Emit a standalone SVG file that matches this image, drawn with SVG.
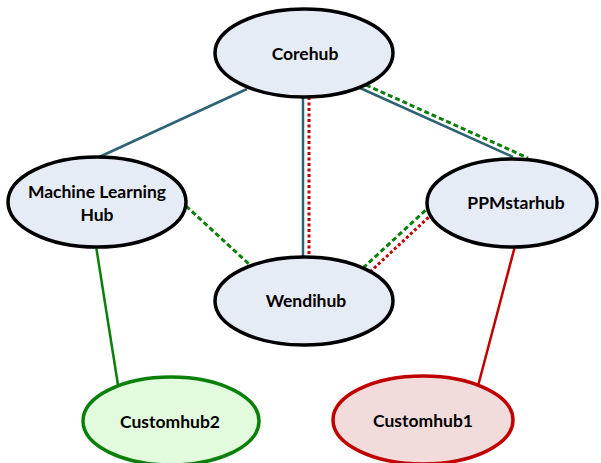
<svg xmlns="http://www.w3.org/2000/svg" width="601" height="463" viewBox="0 0 601 463">
<style>
.hub{fill:#e6ecf6;stroke:#000;stroke-width:3.5}
.c2{fill:#e2fbdd;stroke:#0a7f0a;stroke-width:3.5}
.c1{fill:#f2dcdb;stroke:#c00000;stroke-width:3.5}
text{font-family:Lato,"Open Sans","Liberation Sans",sans-serif;font-weight:bold;font-size:17.5px;fill:#000;text-anchor:middle}
.teal{stroke:#2e6275;stroke-width:2.5;fill:none}
.gs{stroke:#0a7f0a;stroke-width:2.5;fill:none}
.rs{stroke:#c00000;stroke-width:2.5;fill:none}
.gd{stroke:#0a7f0a;stroke-width:3;stroke-dasharray:5 3;fill:none}
.rd{stroke:#c00000;stroke-width:3;stroke-dasharray:3 2.5;fill:none}
</style>
<rect width="601" height="463" fill="#fff"/>
<g id="connectors">
<line class="teal" x1="247" y1="89" x2="97" y2="158"/>
<line class="teal" x1="303" y1="96" x2="303" y2="259"/>
<line class="rd" x1="309" y1="97" x2="309" y2="258"/>
<line class="teal" x1="360" y1="88" x2="513" y2="157"/>
<line class="gd" x1="366" y1="85" x2="528" y2="158"/>
<line class="gd" x1="186" y1="206" x2="250" y2="265"/>
<line class="gd" x1="363" y1="268" x2="428" y2="208"/>
<line class="rd" x1="370" y1="272" x2="430" y2="216"/>
<line class="gs" x1="96" y1="246" x2="118" y2="385"/>
<line class="rs" x1="515" y1="246" x2="478" y2="386"/>
</g>
<g id="corehub"><ellipse class="hub" cx="304" cy="53" rx="89" ry="44"/><text x="305" y="60">Corehub</text></g>
<g id="ml-hub"><ellipse class="hub" cx="97" cy="202" rx="89" ry="45"/><text x="97" y="198">Machine Learning</text><text x="97" y="221">Hub</text></g>
<g id="ppmstarhub"><ellipse class="hub" cx="512" cy="203" rx="85" ry="44"/><text x="516" y="209">PPMstarhub</text></g>
<g id="wendihub"><ellipse class="hub" cx="304" cy="301" rx="89" ry="44"/><text x="306" y="307">Wendihub</text></g>
<g id="customhub2"><ellipse class="c2" cx="171" cy="421" rx="88" ry="44"/><text x="170" y="428">Customhub2</text></g>
<g id="customhub1"><ellipse class="c1" cx="423" cy="420" rx="90" ry="44"/><text x="423" y="427">Customhub1</text></g>
</svg>
